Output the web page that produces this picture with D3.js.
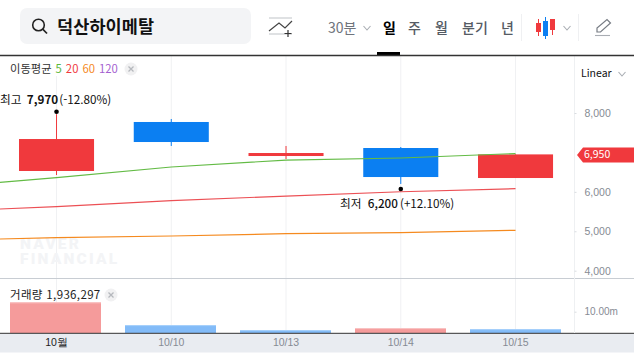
<!DOCTYPE html>
<html lang="ko">
<head>
<meta charset="utf-8">
<script src="https://cdn.jsdelivr.net/npm/d3@7"></script>
<style>
  html, body { margin: 0; padding: 0; background: #fff; }
  svg { display: block; font-family: "Noto Sans CJK KR", "Noto Sans", sans-serif; }
  text { font-size: 11px; }
  .axis path { display: none; }
</style>
</head>
<body>
<svg id="chart" width="634" height="353"></svg>
<script>
// 날짜 (첫 값은 화면 밖, 이동평균선 시작용)
const dates = ["10/08", "10월", "10/10", "10/13", "10/14", "10/15"];
const candleDates = dates.slice(1);

const opens = [6529, 7772, 6909, 7112, 6351];
const highs = [7970, 7848, 7163, 7137, 6950];
const lows = [6427, 7163, 6833, 6200, 6351];
const closes = [7340, 7264, 6985, 6376, 6950];

const ma5 = [6123, 6359, 6630, 6807, 6858, 6972];
const ma20 = [5504, 5623, 5775, 5894, 6003, 6080];
const ma60 = [4771, 4837, 4880, 4938, 4964, 5025];

const volumes = [14350000, 3800000, 1500000, 2400000, 1936297];
const volumeUp = [true, false, false, true, false];

const priceTicks = [8000, 6000, 5000, 4000];
const volumeTicks = [10000000];
const lastPrice = 6950;

const RED = "#f0393d", BLUE = "#0b7ff2";

const svg = d3.select("#chart");

// Scales
const x = d3.scaleBand().domain(dates).range([-115.6, 572.9]).paddingInner(0.346).paddingOuter(0.173);
const xVol = d3.scaleBand().domain(dates).range([-117, 573]).paddingInner(0.2087).paddingOuter(0.10435);
const cx = d => x(d) + x.bandwidth() / 2;
const y = d3.scaleLinear().domain([4000, 8000]).range([270.7, 113]);
const yVol = d3.scaleLinear().domain([0, 10000000]).range([333.3, 311.7]);

// Grid
svg.append("g").selectAll("line")
  .data(candleDates)
  .join("line")
    .attr("x1", d => cx(d)).attr("x2", d => cx(d))
    .attr("y1", d => d === "10월" ? 76 : 56).attr("y2", 333)
    .attr("stroke", "#f0f1f3");

// Watermark
const wm = svg.append("g").attr("fill", "#f3f4f6").attr("font-weight", 900).attr("font-family", "Roboto");
wm.append("text").attr("x", 20).attr("y", 249).style("font-size", "15.5px").style("letter-spacing", "2.2px").text("NAVER");
wm.append("text").attr("x", 20).attr("y", 263.5).style("font-size", "15.5px").style("letter-spacing", "2.2px").text("FINANCIAL");

// Candles
const candles = candleDates.map((d, i) => ({ d, o: opens[i], h: highs[i], l: lows[i], c: closes[i] }));
const cg = svg.append("g").selectAll("g").data(candles).join("g");
cg.append("line")
  .attr("x1", d => cx(d.d)).attr("x2", d => cx(d.d))
  .attr("y1", d => y(d.h)).attr("y2", d => y(d.l))
  .attr("stroke", d => d.c >= d.o ? RED : BLUE);
cg.append("rect")
  .attr("x", d => x(d.d)).attr("width", x.bandwidth())
  .attr("y", d => y(Math.max(d.o, d.c)))
  .attr("height", d => Math.abs(y(d.o) - y(d.c)))
  .attr("fill", d => d.c >= d.o ? RED : BLUE);

// Moving averages
const maLine = d3.line().x((d, i) => cx(dates[i])).y(d => y(d));
[[ma60, "#f58a1f"], [ma20, "#ec5055"], [ma5, "#63bb45"]].forEach(([vals, col]) => {
  svg.append("path").attr("d", maLine(vals)).attr("fill", "none").attr("stroke", col).attr("stroke-width", 1.2);
});

// 최고 / 최저 표시
svg.append("circle").attr("cx", cx("10월")).attr("cy", y(7970) - 2.5).attr("r", 2.3).attr("fill", "#000");
svg.append("circle").attr("cx", cx("10/14")).attr("cy", y(6200) + 5).attr("r", 2.3).attr("fill", "#000");
const hi = svg.append("text").attr("x", 0).attr("y", 103.5).attr("fill", "#111").style("font-size", "11.7px");
hi.append("tspan").text("최고 ");
hi.append("tspan").attr("dx", 2).attr("font-weight", 700).text("7,970");
hi.append("tspan").attr("dx", 1).text("(-12.80%)");
const lo = svg.append("text").attr("x", 340).attr("y", 207.5).attr("fill", "#111").style("font-size", "11.7px");
lo.append("tspan").text("최저 ");
lo.append("tspan").attr("dx", 3).attr("font-weight", 500).text("6,200");
lo.append("tspan").attr("dx", 2).text("(+12.10%)");

// 이동평균 범례
const legend = svg.append("text").attr("x", 10).attr("y", 73).attr("fill", "#333").style("font-size", "11.3px");
legend.append("tspan").text("이동평균");
[["5", "#5cb83c"], ["20", "#f0393d"], ["60", "#f58a1f"], ["120", "#a45fd0"]].forEach(([t, col]) => {
  legend.append("tspan").attr("dx", 4).attr("fill", col).text(t);
});
function closeBtn(px, py) {
  svg.append("circle").attr("cx", px).attr("cy", py).attr("r", 6.5).attr("fill", "#f1f1f2");
  svg.append("path").attr("d", `M${px - 2.5},${py - 2.5}L${px + 2.5},${py + 2.5}M${px + 2.5},${py - 2.5}L${px - 2.5},${py + 2.5}`)
    .attr("stroke", "#b5b8bd").attr("stroke-width", 1.3);
}
closeBtn(131, 69);

// Volume pane
svg.append("line").attr("x1", 0).attr("x2", 634).attr("y1", 278.5).attr("y2", 278.5).attr("stroke", "#c8cdd3");
const vols = candleDates.map((d, i) => ({ d, v: volumes[i], up: volumeUp[i] }));
const vg = svg.append("g").selectAll("g").data(vols).join("g");
vg.append("rect")
  .attr("x", d => xVol(d.d)).attr("width", xVol.bandwidth())
  .attr("y", d => yVol(d.v)).attr("height", d => yVol(0) - yVol(d.v))
  .attr("fill", d => d.up ? "#f59b9b" : "#82bbf8");
vg.append("rect")
  .attr("x", d => xVol(d.d)).attr("width", xVol.bandwidth())
  .attr("y", d => yVol(d.v)).attr("height", 1)
  .attr("fill", d => d.up ? "#f9c6c6" : "#a9d1fb");
svg.append("text").attr("x", 10).attr("y", 299).attr("fill", "#222")
  .style("font-size", "11.5px").style("letter-spacing", "0.35px")
  .text("거래량 " + d3.format(",")(volumes[4]));
closeBtn(111, 295);

// Axes
svg.append("rect").attr("x", 0).attr("y", 333).attr("width", 634).attr("height", 19.5).attr("fill", "#e9ecf1");
svg.append("line").attr("x1", 0).attr("x2", 634).attr("y1", 333.3).attr("y2", 333.3).attr("stroke", "#333");
svg.append("line").attr("x1", 574.5).attr("x2", 574.5).attr("y1", 56).attr("y2", 333).attr("stroke", "#eef0f2");

const yAxis = svg.append("g").attr("class", "axis").attr("transform", "translate(574.5,0)")
  .call(d3.axisRight(y).tickValues(priceTicks).tickSize(2).tickPadding(8).tickFormat(d3.format(",")));
const volAxis = svg.append("g").attr("class", "axis").attr("transform", "translate(574.5,0)")
  .call(d3.axisRight(yVol).tickValues(volumeTicks).tickSize(2).tickPadding(8).tickFormat(d => (d / 1e6).toFixed(2) + "m"));
[yAxis, volAxis].forEach(a => {
  a.selectAll("text").attr("fill", "#868b94").style("font-size", "10.5px").attr("font-family", "inherit");
  a.selectAll("line").attr("stroke", "#d9dce0");
});
volAxis.selectAll("text").style("font-size", "10px");

const xAxis = svg.append("g").attr("class", "axis").attr("transform", "translate(0,333)")
  .call(d3.axisBottom(x).tickValues(candleDates).tickSize(0).tickPadding(6));
xAxis.selectAll("text")
  .attr("fill", d => d === "10월" ? "#222" : "#868b94")
  .style("font-size", "10.5px").attr("font-family", "inherit");

// 현재가 태그
const tagY = y(lastPrice) + 0.5;
svg.append("path")
  .attr("d", `M577,${tagY}L583,${tagY - 7.5}H634V${tagY + 7.5}H583Z`)
  .attr("fill", RED);
svg.append("text").attr("x", 584).attr("y", tagY + 3.5).attr("fill", "#fff").style("font-size", "10.5px")
  .text(d3.format(",")(lastPrice));

svg.append("text").attr("x", 581).attr("y", 77).attr("fill", "#111").style("font-size", "10.5px").text("Linear");
function chevron(px, py, col) {
  svg.append("path").attr("d", `M${px - 3.5},${py - 2}L${px},${py + 2}L${px + 3.5},${py - 2}`)
    .attr("fill", "none").attr("stroke", col).attr("stroke-width", 1.1);
}
chevron(622, 74, "#a9adb3");

// Header
const head = svg.append("g");
head.append("rect").attr("x", 20).attr("y", 8).attr("width", 231).attr("height", 36).attr("rx", 7).attr("fill", "#f3f4f6");
head.append("circle").attr("cx", 38.5).attr("cy", 25).attr("r", 5.8).attr("fill", "none").attr("stroke", "#222").attr("stroke-width", 1.6);
head.append("path").attr("d", "M42.7,29.2L47,33.5").attr("stroke", "#222").attr("stroke-width", 1.7);
head.append("text").attr("x", 57).attr("y", 33).attr("font-weight", 700).attr("fill", "#111").style("font-size", "17.5px").style("letter-spacing", "0.1px").text("덕산하이메탈");

// 지표 추가 아이콘
head.append("path").attr("d", "M269,18H292M269,34H292").attr("stroke", "#d5d7da").attr("stroke-width", 1.3);
head.append("path").attr("d", "M269,31L279,23L285,28L292,21").attr("fill", "none").attr("stroke", "#444").attr("stroke-width", 1.2);
head.append("path").attr("d", "M288,30V37M284.5,33.5H291.5").attr("stroke", "#333").attr("stroke-width", 1.2);

const menu = [["30분", 328, "#6f747c", 400], ["일", 383, "#000", 700], ["주", 408, "#555b64", 500],
  ["월", 435, "#555b64", 500], ["분기", 462, "#555b64", 500], ["년", 501, "#555b64", 500]];
head.selectAll("text.menu").data(menu).join("text").attr("class", "menu")
  .attr("x", d => d[1]).attr("y", 33).attr("fill", d => d[2]).attr("font-weight", d => d[3])
  .style("font-size", "14px").text(d => d[0]);
chevron(367, 28, "#a9adb3");
chevron(567, 28, "#a9adb3");
head.append("path").attr("d", "M521.5,14V41M578.5,14V41").attr("stroke", "#eff0f2");
head.append("rect").attr("x", 377).attr("y", 52).attr("width", 23).attr("height", 3).attr("fill", "#000");
head.append("line").attr("x1", 0).attr("x2", 634).attr("y1", 55.5).attr("y2", 55.5).attr("stroke", "#333").attr("stroke-width", 1.3);

// 캔들 아이콘
head.append("path").attr("d", "M538.5,19V36M552.5,19V35").attr("stroke", RED);
head.append("path").attr("d", "M545.5,17V39").attr("stroke", BLUE);
head.append("rect").attr("x", 536).attr("y", 23).attr("width", 5).attr("height", 9).attr("fill", RED);
head.append("rect").attr("x", 543).attr("y", 21).attr("width", 5).attr("height", 15).attr("fill", BLUE);
head.append("rect").attr("x", 550).attr("y", 19).attr("width", 5).attr("height", 11).attr("fill", RED);

// 연필 아이콘
head.append("path").attr("d", "M597,32L597,28L607,19.5L610.5,23L600.5,32Z").attr("fill", "none").attr("stroke", "#777c84").attr("stroke-width", 1.2);
head.append("path").attr("d", "M595,35.5H610").attr("stroke", "#a9adb3").attr("stroke-width", 1.1);
</script>
</body>
</html>
